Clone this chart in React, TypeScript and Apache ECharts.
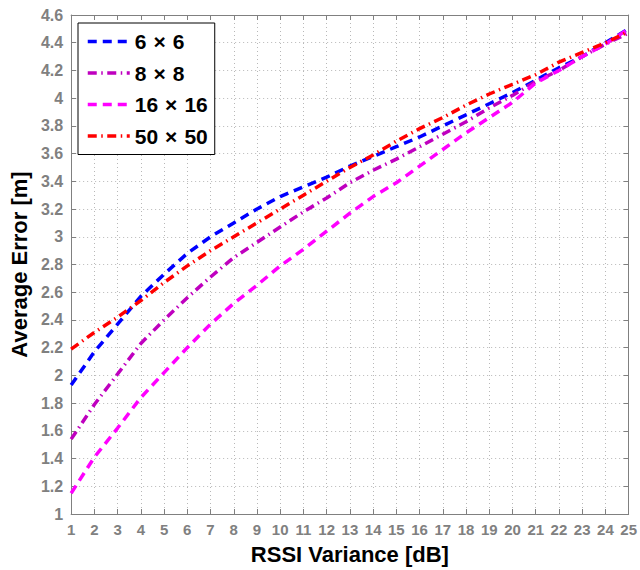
import React, { useEffect, useRef } from "react";
import * as echarts from "echarts";

// RSSI variance in dB (x axis)
const variance = [1, 2, 3, 4, 5, 6, 7, 8, 9, 10, 11, 12, 13, 14, 15, 16, 17, 18, 19, 20, 21, 22, 23, 24, 25];

// Average localisation error in metres for each grid size
const err6x6 = [1.93, 2.17, 2.37, 2.57, 2.73, 2.88, 3.0, 3.1, 3.2, 3.29, 3.36, 3.43, 3.51, 3.58, 3.65, 3.72, 3.8, 3.88, 3.96, 4.04, 4.13, 4.22, 4.3, 4.4, 4.5];
const err8x8 = [1.54, 1.79, 2.01, 2.23, 2.4, 2.56, 2.71, 2.85, 2.96, 3.07, 3.18, 3.28, 3.39, 3.48, 3.56, 3.65, 3.74, 3.83, 3.93, 4.02, 4.12, 4.2, 4.3, 4.39, 4.47];
const err16x16 = [1.15, 1.41, 1.62, 1.84, 2.02, 2.2, 2.37, 2.52, 2.65, 2.79, 2.91, 3.04, 3.17, 3.29, 3.39, 3.51, 3.63, 3.75, 3.86, 3.97, 4.11, 4.2, 4.3, 4.39, 4.5];
const err50x50 = [2.19, 2.31, 2.42, 2.54, 2.67, 2.79, 2.9, 3.0, 3.1, 3.2, 3.3, 3.4, 3.5, 3.59, 3.69, 3.78, 3.86, 3.95, 4.03, 4.1, 4.17, 4.26, 4.33, 4.4, 4.48];

const seriesNames = ["6\u2004\u00d7\u20046", "8\u2004\u00d7\u20048", "16\u2004\u00d7\u200416", "50\u2004\u00d7\u200450"];
const seriesValues = [err6x6, err8x8, err16x16, err50x50];
const seriesColors = ["#0000ff", "#bf00bf", "#ff00ff", "#ff0000"];
const seriesDashes: number[][] = [
  [9, 6],
  [9, 4.5, 1.5, 4.5],
  [9, 6],
  [9, 4.5, 1.5, 4.5],
];

const FONT = "'Liberation Sans', Arial, Helvetica, sans-serif";
const GRAY = "#808080";

export default function App() {
  const ref = useRef<HTMLDivElement>(null);

  useEffect(() => {
    if (!ref.current) return;
    const chart = echarts.init(ref.current, undefined, { renderer: "svg" });

    const tickLabel = {
      color: GRAY,
      fontFamily: FONT,
      fontWeight: "bold" as const,
    };

    const series = seriesNames.map((name, i) => ({
      name,
      type: "line" as const,
      xAxisIndex: 0,
      yAxisIndex: 0,
      data: variance.map((x, j) => [x, seriesValues[i][j]]),
      symbol: "none",
      showSymbol: false,
      lineStyle: {
        color: seriesColors[i],
        width: 3.5,
        type: seriesDashes[i],
        cap: "butt" as const,
      },
      itemStyle: { color: seriesColors[i] },
    }));

    chart.setOption({
      animation: false,
      backgroundColor: "#ffffff",
      grid: { left: 70, top: 15, right: 11, bottom: 52, containLabel: false },
      legend: {
        orient: "vertical",
        left: 78,
        top: 23,
        padding: [8, 7, 8, 8],
        itemGap: 10.5,
        itemWidth: 42,
        itemHeight: 14,
        backgroundColor: "#ffffff",
        borderColor: "#000000",
        borderWidth: 1,
        borderRadius: 0,
        textStyle: {
          color: "#000000",
          fontFamily: FONT,
          fontWeight: "bold",
          fontSize: 21,
        },
        itemStyle: { opacity: 0 },
        lineStyle: { width: 3.5 },
        data: seriesNames,
      },
      xAxis: [
        {
          type: "value",
          min: 1,
          max: 25,
          interval: 1,
          position: "bottom",
          name: "RSSI Variance [dB]",
          nameLocation: "middle",
          nameGap: 29,
          nameTextStyle: {
            color: "#000000",
            fontFamily: FONT,
            fontWeight: "bold",
            fontSize: 22,
          },
          axisLine: { show: true, onZero: false, lineStyle: { color: GRAY, width: 1 } },
          axisTick: { show: true, inside: true, length: 5, lineStyle: { color: GRAY } },
          axisLabel: { ...tickLabel, fontSize: 15, margin: 8, interval: 0 },
          splitLine: { show: true, lineStyle: { color: "#b8b8b8", type: [1, 3], width: 1 } },
        },
        {
          type: "value",
          min: 1,
          max: 25,
          interval: 1,
          position: "top",
          axisLine: { show: true, onZero: false, lineStyle: { color: GRAY, width: 1 } },
          axisTick: { show: true, inside: true, length: 5, lineStyle: { color: GRAY } },
          axisLabel: { show: false },
          splitLine: { show: false },
        },
      ],
      yAxis: [
        {
          type: "value",
          min: 1,
          max: 4.6,
          interval: 0.2,
          position: "left",
          name: "Average Error [m]",
          nameLocation: "middle",
          nameGap: 35,
          nameRotate: 90,
          nameTextStyle: {
            color: "#000000",
            fontFamily: FONT,
            fontWeight: "bold",
            fontSize: 22,
          },
          axisLine: { show: true, onZero: false, lineStyle: { color: GRAY, width: 1 } },
          axisTick: { show: true, inside: true, length: 5, lineStyle: { color: GRAY } },
          axisLabel: {
            ...tickLabel,
            fontSize: 16,
            margin: 8,
            formatter: (v: number) => String(Math.round(v * 10) / 10),
          },
          splitLine: { show: true, lineStyle: { color: "#b8b8b8", type: [1, 3], width: 1 } },
        },
        {
          type: "value",
          min: 1,
          max: 4.6,
          interval: 0.2,
          position: "right",
          axisLine: { show: true, onZero: false, lineStyle: { color: GRAY, width: 1 } },
          axisTick: { show: true, inside: true, length: 5, lineStyle: { color: GRAY } },
          axisLabel: { show: false },
          splitLine: { show: false },
        },
      ],
      series,
    });

    return () => chart.dispose();
  }, []);

  return (
    <div
      ref={ref}
      style={{ position: "fixed", left: 0, top: 0, width: 640, height: 570, background: "#fff" }}
    />
  );
}
